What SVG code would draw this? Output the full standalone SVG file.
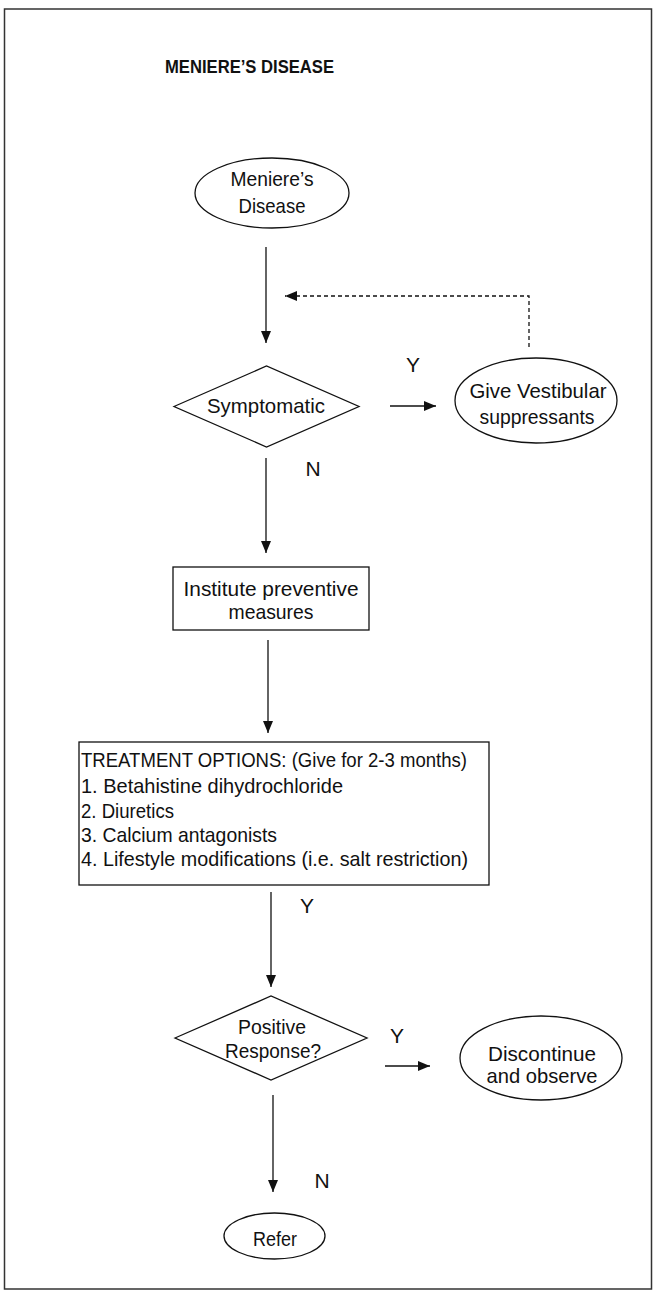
<svg xmlns="http://www.w3.org/2000/svg" width="654" height="1291" viewBox="0 0 654 1291">
  <style>
    .shape { fill: #fff; stroke: #111; stroke-width: 1.3; }
    .edge { fill: none; stroke: #111; stroke-width: 1.3; }
    .dash { fill: none; stroke: #111; stroke-width: 1.3; stroke-dasharray: 4 3; }
    text { font-family: "Liberation Sans", Arial, sans-serif; font-size: 21px; fill: #111; }
    .c { text-anchor: middle; }
    .title { font-weight: bold; font-size: 19px; }
  </style>
  <defs>
    <marker id="arrow" viewBox="0 0 12 10" refX="12" refY="5" markerWidth="12" markerHeight="10" markerUnits="userSpaceOnUse" orient="auto">
      <path d="M0,0 L12,5 L0,10 Z" fill="#111"/>
    </marker>
  </defs>

  <rect x="4.5" y="9" width="647" height="1280" fill="#fff" stroke="#333" stroke-width="1.5"/>

  <text class="title c" x="249.5" y="73" textLength="169" lengthAdjust="spacingAndGlyphs">MENIERE’S DISEASE</text>

  <g id="connectors">
    <line class="edge" x1="266" y1="247" x2="266" y2="343" marker-end="url(#arrow)"/>
    <polyline class="dash" points="529,347 529,296 285,296" marker-end="url(#arrow)"/>
    <line class="edge" x1="390" y1="406" x2="436" y2="406" marker-end="url(#arrow)"/>
    <line class="edge" x1="266" y1="458" x2="266" y2="553" marker-end="url(#arrow)"/>
    <line class="edge" x1="268" y1="640" x2="268" y2="733" marker-end="url(#arrow)"/>
    <line class="edge" x1="271" y1="892" x2="271" y2="987" marker-end="url(#arrow)"/>
    <line class="edge" x1="385" y1="1066" x2="430" y2="1066" marker-end="url(#arrow)"/>
    <line class="edge" x1="273" y1="1095" x2="273" y2="1192" marker-end="url(#arrow)"/>
    <text class="c" x="413" y="372">Y</text>
    <text class="c" x="313" y="476">N</text>
    <text class="c" x="307" y="913">Y</text>
    <text class="c" x="397" y="1043">Y</text>
    <text class="c" x="322" y="1188">N</text>
  </g>

  <g id="start">
    <ellipse class="shape" cx="272" cy="193" rx="77" ry="35"/>
    <text class="c" x="272" y="186" textLength="83" lengthAdjust="spacingAndGlyphs">Meniere’s</text>
    <text class="c" x="272" y="213" textLength="67" lengthAdjust="spacingAndGlyphs">Disease</text>
  </g>

  <g id="symptomatic">
    <polygon class="shape" points="174,406.5 266.5,366 359,406.5 266.5,447"/>
    <text class="c" x="266" y="413" textLength="118" lengthAdjust="spacingAndGlyphs">Symptomatic</text>
  </g>

  <g id="vestibular">
    <ellipse class="shape" cx="536" cy="400.5" rx="81" ry="42.5"/>
    <text class="c" x="538" y="398" textLength="137" lengthAdjust="spacingAndGlyphs">Give Vestibular</text>
    <text class="c" x="537" y="424" textLength="115" lengthAdjust="spacingAndGlyphs">suppressants</text>
  </g>

  <g id="preventive">
    <rect class="shape" x="173" y="567" width="196" height="63"/>
    <text class="c" x="271" y="596" textLength="175" lengthAdjust="spacingAndGlyphs">Institute preventive</text>
    <text class="c" x="271" y="619" textLength="85" lengthAdjust="spacingAndGlyphs">measures</text>
  </g>

  <g id="treatment">
    <rect class="shape" x="79" y="742" width="410" height="143"/>
    <text x="81" y="767" textLength="386" lengthAdjust="spacingAndGlyphs">TREATMENT OPTIONS: (Give for 2-3 months)</text>
    <text x="81" y="793" textLength="262" lengthAdjust="spacingAndGlyphs">1. Betahistine dihydrochloride</text>
    <text x="81" y="818" textLength="93" lengthAdjust="spacingAndGlyphs">2. Diuretics</text>
    <text x="81" y="842" textLength="196" lengthAdjust="spacingAndGlyphs">3. Calcium antagonists</text>
    <text x="81" y="866" textLength="387" lengthAdjust="spacingAndGlyphs">4. Lifestyle modifications (i.e. salt restriction)</text>
  </g>

  <g id="response">
    <polygon class="shape" points="175,1038 271,996 367,1038 271,1080"/>
    <text class="c" x="272" y="1034" textLength="68" lengthAdjust="spacingAndGlyphs">Positive</text>
    <text class="c" x="273" y="1058" textLength="96" lengthAdjust="spacingAndGlyphs">Response?</text>
  </g>

  <g id="discontinue">
    <ellipse class="shape" cx="541" cy="1058" rx="81" ry="42"/>
    <text class="c" x="542" y="1061" textLength="108" lengthAdjust="spacingAndGlyphs">Discontinue</text>
    <text class="c" x="542" y="1083" textLength="111" lengthAdjust="spacingAndGlyphs">and observe</text>
  </g>

  <g id="refer">
    <ellipse class="shape" cx="274.5" cy="1236" rx="50.5" ry="23"/>
    <text class="c" x="275" y="1246" textLength="44" lengthAdjust="spacingAndGlyphs">Refer</text>
  </g>
</svg>
